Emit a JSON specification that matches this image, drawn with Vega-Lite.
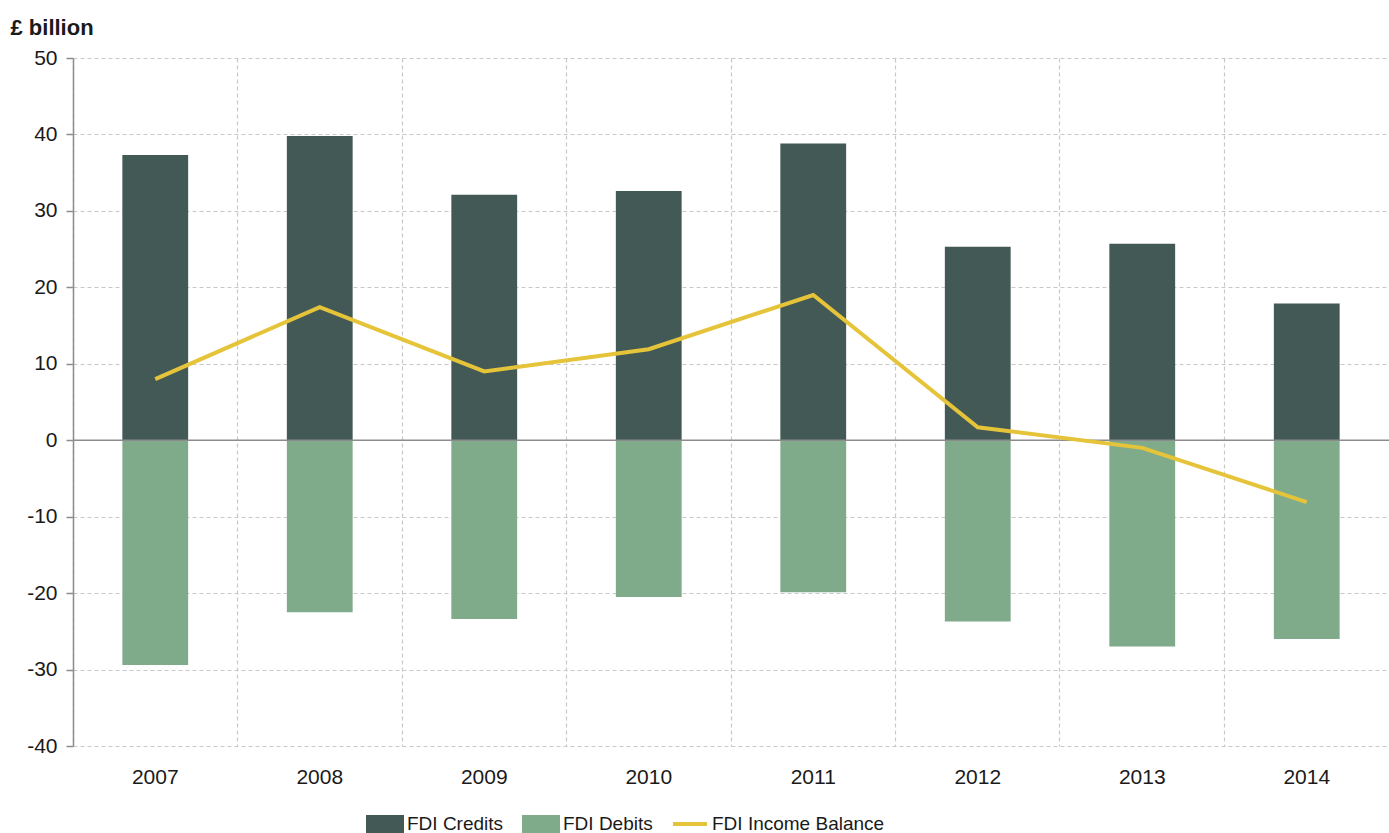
{
  "$schema": "https://vega.github.io/schema/vega-lite/v6.json",
  "autosize": "none",
  "width": 1316,
  "height": 688,
  "padding": {"left": 73, "top": 58, "right": 0, "bottom": 87},
  "background": "white",
  "config": {
    "view": {"stroke": null},
    "font": "Liberation Sans",
    "axis": {"labelFont": "Liberation Sans", "titleFont": "Liberation Sans"},
    "legend": {"labelFont": "Liberation Sans"}
  },
  "data": {
    "values": [
      {"year": "2007", "series": "FDI Credits", "value": 37.3},
      {"year": "2008", "series": "FDI Credits", "value": 39.8},
      {"year": "2009", "series": "FDI Credits", "value": 32.1},
      {"year": "2010", "series": "FDI Credits", "value": 32.6},
      {"year": "2011", "series": "FDI Credits", "value": 38.8},
      {"year": "2012", "series": "FDI Credits", "value": 25.3},
      {"year": "2013", "series": "FDI Credits", "value": 25.7},
      {"year": "2014", "series": "FDI Credits", "value": 17.9},
      {"year": "2007", "series": "FDI Debits", "value": -29.4},
      {"year": "2008", "series": "FDI Debits", "value": -22.5},
      {"year": "2009", "series": "FDI Debits", "value": -23.4},
      {"year": "2010", "series": "FDI Debits", "value": -20.5},
      {"year": "2011", "series": "FDI Debits", "value": -19.9},
      {"year": "2012", "series": "FDI Debits", "value": -23.7},
      {"year": "2013", "series": "FDI Debits", "value": -27.0},
      {"year": "2014", "series": "FDI Debits", "value": -26.0},
      {"year": "2007", "series": "FDI Income Balance", "value": 8.0},
      {"year": "2008", "series": "FDI Income Balance", "value": 17.4},
      {"year": "2009", "series": "FDI Income Balance", "value": 9.0},
      {"year": "2010", "series": "FDI Income Balance", "value": 11.9},
      {"year": "2011", "series": "FDI Income Balance", "value": 19.0},
      {"year": "2012", "series": "FDI Income Balance", "value": 1.7},
      {"year": "2013", "series": "FDI Income Balance", "value": -1.0},
      {"year": "2014", "series": "FDI Income Balance", "value": -8.1}
    ]
  },
  "encoding": {
    "x": {
      "field": "year", "type": "nominal",
      "scale": {"paddingInner": 0.6, "paddingOuter": 0.3},
      "axis": {
        "title": null, "labelAngle": 0, "domain": false, "ticks": false,
        "grid": true, "bandPosition": -0.75,
        "gridColor": "#c8c8c8", "gridDash": [4, 3], "gridWidth": 1.2,
        "labelFontSize": 21, "labelColor": "#1a1a1a", "labelPadding": 20
      }
    },
    "y": {
      "field": "value", "type": "quantitative",
      "scale": {"domain": [-40, 50], "nice": false},
      "axis": {
        "values": [-40, -30, -20, -10, 0, 10, 20, 30, 40, 50],
        "labelExpr": "toString(datum.value)",
        "title": "£ billion", "titleAngle": 0, "titleAlign": "left",
        "titleBaseline": "alphabetic", "titleX": -63, "titleY": -24,
        "titleFontSize": 22, "titleFontWeight": "bold", "titleColor": "#1a1a1a",
        "domainColor": "#8c8c8c", "domainWidth": 1.5,
        "tickColor": "#8c8c8c", "tickSize": 7, "tickWidth": 1.5,
        "labelFontSize": 21, "labelColor": "#1a1a1a", "labelPadding": 9,
        "grid": true, "gridColor": "#c8c8c8", "gridDash": [4, 3], "gridWidth": 1.2
      }
    },
    "color": {
      "field": "series", "type": "nominal",
      "scale": {
        "domain": ["FDI Credits", "FDI Debits", "FDI Income Balance"],
        "range": ["#435955", "#80ab8a", "#e5c43a"]
      },
      "legend": {
        "title": null, "orient": "none", "direction": "horizontal",
        "legendX": 293, "legendY": 747,
        "labelFontSize": 19, "labelColor": "#1a1a1a", "labelOffset": 3,
        "labelLimit": 400,
        "columnPadding": 12, "symbolSize": 1156, "symbolStrokeWidth": 4,
        "symbolOpacity": 1,
        "encode": {
          "symbols": {
            "update": {
              "shape": {"signal": "datum.value === 'FDI Income Balance' ? 'M-1,-0.41M-1,0.41M-1,0H1' : 'M-1,-0.41H1V0.41H-1Z'"},
              "fill": {"signal": "datum.value === 'FDI Income Balance' ? 'transparent' : scale('color', datum.value)"},
              "stroke": {"signal": "datum.value === 'FDI Income Balance' ? scale('color', datum.value) : 'transparent'"},
              "strokeWidth": {"value": 4},
              "opacity": {"value": 1}
            }
          }
        }
      }
    }
  },
  "layer": [
    {
      "transform": [{"filter": "datum.series !== 'FDI Income Balance'"}],
      "mark": {"type": "bar", "opacity": 1}
    },
    {
      "data": {"values": [{"zero": 0}]},
      "mark": {"type": "rule", "color": "#8c8c8c", "strokeWidth": 1.5},
      "encoding": {"y": {"field": "zero", "type": "quantitative"}, "x": null, "color": null}
    },
    {
      "transform": [{"filter": "datum.series === 'FDI Income Balance'"}],
      "mark": {"type": "line", "strokeWidth": 4, "strokeJoin": "miter"}
    }
  ]
}
